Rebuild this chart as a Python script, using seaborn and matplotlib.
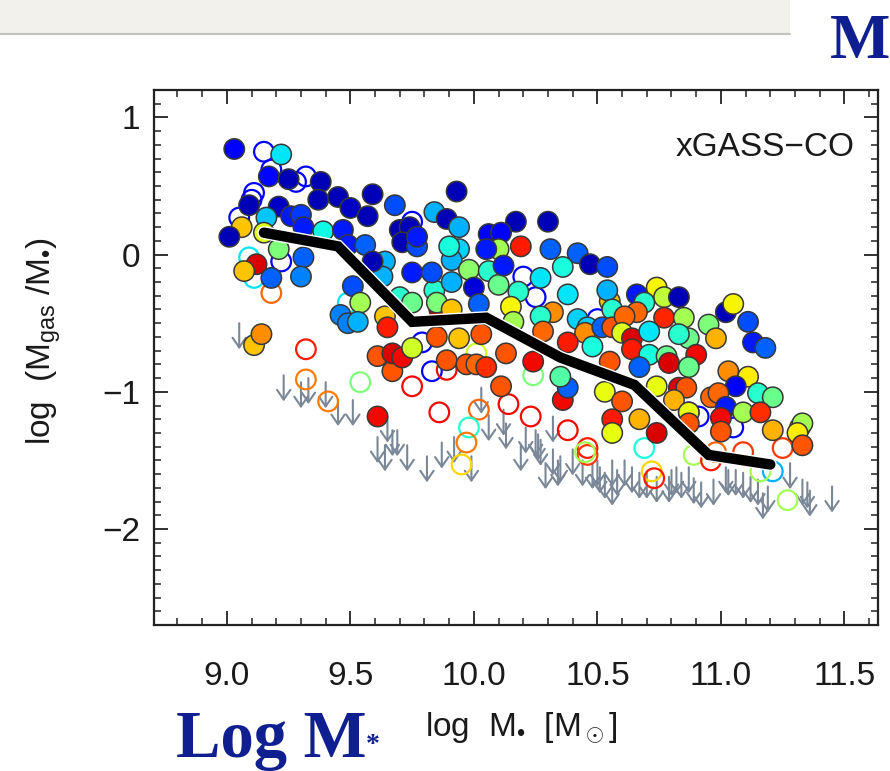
import numpy as np
import pandas as pd
import matplotlib
matplotlib.use("Agg")
import matplotlib.pyplot as plt
import matplotlib.patheffects as pe
from matplotlib.patches import Rectangle
from matplotlib.lines import Line2D
from matplotlib.ticker import MultipleLocator
import seaborn as sns

# ---------------- data ----------------
# detections (filled circles): log M*, log(Mgas/M*), colour value (0..1 on jet)
det_x = [9.03, 9.22, 9.17, 9.25, 9.38, 9.09, 9.21, 9.37, 9.45, 9.50, 9.59, 9.68, 9.57, 9.26, 9.30,
         9.06, 9.16, 9.01, 9.31, 9.39, 9.47, 9.49, 9.56, 9.70, 9.15, 9.21, 9.12, 9.07, 9.18, 9.31,
         9.30, 9.51, 9.54, 9.64, 9.63, 9.59, 9.75, 9.70, 9.75, 9.64, 9.46, 9.49, 9.53, 9.65, 9.11,
         9.14, 9.61, 9.61, 9.67, 9.67, 9.71, 9.75, 9.89, 9.97, 10.01, 10.05, 10.11, 9.74, 9.71, 9.77,
         9.84, 9.84, 9.86, 9.93, 9.89, 9.94, 9.77, 10.17, 10.30, 10.06, 10.11, 10.19, 10.31, 10.42, 10.47,
         10.54, 10.10, 9.94, 10.05, 9.91, 9.98, 10.06, 10.27, 10.36, 9.83, 9.91, 10.00, 10.10, 10.18, 10.38,
         10.02, 9.85, 10.15, 10.32, 10.27, 9.91, 10.55, 10.54, 10.56, 10.16, 10.28, 10.42, 10.46, 10.45, 10.52,
         10.56, 10.38, 10.48, 9.94, 9.85, 10.03, 10.13, 10.24, 10.55, 10.36, 10.38, 10.35, 10.74, 10.77, 10.83,
         10.66, 10.69, 10.66, 10.61, 10.77, 10.85, 10.95, 11.02, 11.05, 11.11, 10.60, 10.64, 10.71, 10.87, 10.83,
         10.98, 11.13, 11.18, 10.64, 10.71, 10.78, 10.90, 10.79, 10.67, 10.87, 11.03, 11.11, 11.06, 10.74, 10.83,
         10.86, 10.81, 10.96, 10.99, 11.02, 11.15, 11.21, 11.09, 11.16, 10.53, 10.60, 10.56, 10.56, 10.67, 10.74,
         10.87, 10.87, 11.00, 11.00, 11.21, 11.32, 11.33, 11.31, 11.33, 9.90, 10.12]
det_y = [0.77, 0.73, 0.57, 0.55, 0.53, 0.36, 0.35, 0.40, 0.42, 0.34, 0.44, 0.36, 0.28, 0.28, 0.29,
         0.20, 0.27, 0.13, 0.20, 0.17, 0.18, 0.07, 0.07, 0.18, 0.16, 0.04, -0.07, -0.12, -0.17, -0.02,
         -0.16, -0.23, -0.35, -0.05, -0.16, -0.05, -0.13, -0.31, -0.35, -0.45, -0.44, -0.50, -0.49, -0.53, -0.66,
         -0.58, -1.18, -0.74, -0.85, -0.72, -0.75, -0.68, -0.77, -0.80, -0.80, -0.82, -0.96, 0.20, 0.09, 0.06,
         0.31, -0.26, -0.40, 0.46, 0.26, 0.20, 0.13, 0.24, 0.24, 0.15, 0.16, 0.06, 0.04, 0.01, -0.07,
         -0.09, 0.04, 0.04, 0.04, -0.04, -0.11, -0.12, -0.17, -0.09, -0.13, -0.20, -0.24, -0.22, -0.27, -0.29,
         -0.36, -0.35, -0.38, -0.42, -0.45, -0.40, -0.34, -0.26, -0.40, -0.49, -0.56, -0.47, -0.53, -0.57, -0.53,
         -0.53, -0.64, -0.67, -0.61, -0.60, -0.58, -0.72, -0.78, -0.78, -1.06, -0.97, -0.89, -0.24, -0.31, -0.31,
         -0.29, -0.35, -0.42, -0.45, -0.46, -0.46, -0.51, -0.42, -0.36, -0.49, -0.57, -0.61, -0.56, -0.61, -0.58,
         -0.61, -0.64, -0.68, -0.69, -0.73, -0.74, -0.73, -0.79, -0.82, -0.82, -0.85, -0.89, -0.96, -0.96, -0.97,
         -0.97, -1.06, -1.04, -1.01, -1.11, -1.01, -1.04, -1.15, -1.15, -1.00, -1.07, -1.20, -1.30, -1.20, -1.30,
         -1.15, -1.23, -1.19, -1.29, -1.28, -1.26, -1.23, -1.30, -1.39, 0.06, -0.08]
det_c = [0.12, 0.35, 0.13, 0.05, 0.05, 0.05, 0.06, 0.05, 0.05, 0.06, 0.05, 0.20, 0.05, 0.15, 0.18,
         0.70, 0.32, 0.05, 0.15, 0.37, 0.15, 0.15, 0.22, 0.05, 0.62, 0.50, 0.92, 0.70, 0.22, 0.22,
         0.25, 0.20, 0.55, 0.30, 0.30, 0.05, 0.15, 0.40, 0.48, 0.70, 0.25, 0.25, 0.30, 0.88, 0.70,
         0.76, 0.90, 0.82, 0.82, 0.92, 0.90, 0.60, 0.82, 0.82, 0.80, 0.86, 0.82, 0.05, 0.05, 0.20,
         0.30, 0.40, 0.92, 0.05, 0.05, 0.30, 0.15, 0.05, 0.05, 0.12, 0.12, 0.88, 0.22, 0.22, 0.05,
         0.20, 0.55, 0.33, 0.15, 0.30, 0.52, 0.40, 0.35, 0.38, 0.20, 0.30, 0.08, 0.48, 0.40, 0.35,
         0.22, 0.50, 0.65, 0.76, 0.40, 0.70, 0.70, 0.30, 0.40, 0.55, 0.80, 0.33, 0.33, 0.76, 0.22,
         0.82, 0.88, 0.38, 0.70, 0.82, 0.82, 0.82, 0.90, 0.82, 0.90, 0.22, 0.45, 0.65, 0.58, 0.05,
         0.15, 0.40, 0.80, 0.80, 0.87, 0.55, 0.50, 0.05, 0.65, 0.20, 0.62, 0.92, 0.35, 0.48, 0.40,
         0.72, 0.15, 0.22, 0.88, 0.38, 0.48, 0.90, 0.92, 0.22, 0.48, 0.76, 0.66, 0.12, 0.63, 0.92,
         0.82, 0.72, 0.80, 0.80, 0.15, 0.40, 0.48, 0.55, 0.86, 0.63, 0.82, 0.88, 0.63, 0.72, 0.92,
         0.63, 0.82, 0.90, 0.82, 0.72, 0.63, 0.55, 0.66, 0.82, 0.38, 0.15]

# marginal / non-CO detections (open circles)
opn_x = [9.15, 9.18, 9.28, 9.32, 9.11, 9.10, 9.05, 9.22, 9.09, 9.11, 9.18, 9.49, 9.75, 10.20, 10.25,
         9.32, 9.32, 9.41, 9.54, 9.75, 9.79, 9.83, 9.89, 10.01, 9.86, 10.02, 10.14, 10.23, 9.98, 9.97,
         9.95, 10.24, 10.38, 10.46, 10.46, 10.45, 10.69, 10.72, 10.73, 10.89, 10.96, 10.98, 11.09, 11.25,
         11.21, 11.16, 11.27, 10.87, 10.91, 11.05, 10.50]
opn_y = [0.75, 0.62, 0.53, 0.57, 0.45, 0.40, 0.27, -0.05, -0.02, -0.17, -0.28, -0.35, 0.24, -0.16, -0.31,
         -0.69, -0.91, -1.07, -0.93, -0.96, -0.64, -0.85, -0.84, -0.72, -1.15, -1.13, -1.09, -1.18, -1.26, -1.37,
         -1.53, -0.88, -1.28, -1.41, -1.46, -1.44, -1.41, -1.58, -1.63, -1.46, -1.50, -1.44, -1.44, -1.41,
         -1.58, -1.58, -1.79, -1.15, -1.18, -1.26, -0.47]
opn_c = [0.12, 0.12, 0.12, 0.12, 0.12, 0.12, 0.12, 0.12, 0.35, 0.35, 0.80, 0.35, 0.12, 0.12, 0.12,
         0.88, 0.78, 0.78, 0.50, 0.90, 0.12, 0.12, 0.90, 0.60, 0.90, 0.80, 0.90, 0.90, 0.40, 0.78,
         0.68, 0.50, 0.90, 0.88, 0.85, 0.55, 0.38, 0.68, 0.88, 0.55, 0.88, 0.80, 0.85, 0.85,
         0.30, 0.55, 0.55, 0.12, 0.12, 0.12, 0.12]

# upper limits (arrows): log M*, upper limit on log(Mgas/M*)
lim_x = [9.05, 9.23, 9.30, 9.33, 9.40, 9.45, 9.51, 9.65, 9.61, 9.64, 9.67, 9.69, 9.73, 9.81, 9.87,
         9.92, 9.99, 10.03, 10.06, 10.12, 10.13, 10.19, 10.21, 10.25, 10.26, 10.27, 10.29, 10.32, 10.32,
         10.34, 10.35, 10.40, 10.44, 10.48, 10.50, 10.51, 10.53, 10.56, 10.58, 10.61, 10.64, 10.67, 10.70,
         10.74, 10.79, 10.80, 10.82, 10.84, 10.87, 10.89, 10.92, 10.97, 11.02, 11.03, 11.06, 11.09, 11.12,
         11.15, 11.17, 11.19, 11.28, 11.33, 11.35, 11.36, 11.45, 10.56]
lim_y = [-0.50, -0.88, -0.93, -0.90, -0.93, -1.06, -1.06, -1.18, -1.33, -1.39, -1.28, -1.28, -1.39, -1.47, -1.37,
         -1.33, -1.47, -0.97, -1.17, -1.13, -1.23, -1.39, -1.26, -1.28, -1.31, -1.35, -1.52, -1.18, -1.42,
         -1.50, -1.47, -1.42, -1.50, -1.52, -1.50, -1.55, -1.59, -1.64, -1.57, -1.50, -1.55, -1.59, -1.59,
         -1.62, -1.62, -1.57, -1.55, -1.59, -1.55, -1.63, -1.66, -1.64, -1.55, -1.57, -1.57, -1.59, -1.62,
         -1.64, -1.74, -1.69, -1.52, -1.64, -1.66, -1.72, -1.69, -1.50]

# running median
med_x = [9.15, 9.45, 9.75, 10.05, 10.35, 10.65, 10.95, 11.20]
med_y = [0.16, 0.06, -0.49, -0.46, -0.75, -0.95, -1.46, -1.53]

xtick_vals = [9.0, 9.5, 10.0, 10.5, 11.0, 11.5]
xtick_labels = ["9.0", "9.5", "10.0", "10.5", "11.0", "11.5"]
ytick_vals = [-2, -1, 0, 1]
ytick_labels = ["\u22122", "\u22121", "0", "1"]

# ---------------- style ----------------
sns.set_style("ticks")
plt.rcParams["font.family"] = ["Liberation Sans", "DejaVu Sans"]
plt.rcParams["mathtext.fontset"] = "custom"
plt.rcParams["mathtext.rm"] = "Liberation Sans"
plt.rcParams["mathtext.it"] = "Liberation Sans:italic"

JET = plt.get_cmap("jet")

W, H = 890, 771
fig = plt.figure(figsize=(W / 100, H / 100), dpi=100)
fig.patch.set_facecolor("white")

# top banner
fig.add_artist(Rectangle((0, 1 - 33 / H), 790 / W, 33 / H, transform=fig.transFigure,
                         facecolor="#f3f1ec", edgecolor="none", zorder=0))
fig.add_artist(Line2D([0, 790 / W], [1 - 34 / H, 1 - 34 / H], transform=fig.transFigure,
                      color="#c4c2bd", lw=1.6))

ax = fig.add_axes([154 / W, 1 - 625 / H, 724 / W, 535 / H])
ax.set_facecolor("white")

# upper limits
ARROW = 0.19
for x, y in zip(lim_x, lim_y):
    ax.annotate("", xy=(x, y - ARROW), xytext=(x, y),
                arrowprops=dict(arrowstyle="->,head_length=0.35,head_width=0.24",
                                color="#7a8797", lw=1.5, mutation_scale=20,
                                shrinkA=0, shrinkB=0), zorder=1)

# open circles
opn_df = pd.DataFrame({"x": opn_x, "y": opn_y, "c": opn_c})
sns.scatterplot(data=opn_df, x="x", y="y", hue="c", palette=JET, hue_norm=(0, 1),
                s=200, legend=False, ax=ax, zorder=2, linewidth=0)
coll = ax.collections[-1]
fcs = coll.get_facecolors()
coll.set_edgecolors(fcs)
coll.set_facecolors("none")
coll.set_linewidths(1.6)

# filled circles
det_df = pd.DataFrame({"x": det_x, "y": det_y, "c": det_c})
sns.scatterplot(data=det_df, x="x", y="y", hue="c", palette=JET, hue_norm=(0, 1),
                s=215, edgecolor="#383838", linewidth=1.1, legend=False, ax=ax, zorder=3)

# median line
sns.lineplot(x=med_x, y=med_y, color="black", lw=7.5, sort=False, ax=ax, zorder=5,
             solid_joinstyle="miter",
             path_effects=[pe.Stroke(linewidth=9.5, foreground="white"), pe.Normal()])

ax.set_xlim(8.705, 11.636)
ax.set_ylim(-2.70, 1.20)
ax.set_xticks(xtick_vals)
ax.set_xticklabels(xtick_labels)
ax.set_yticks(ytick_vals)
ax.set_yticklabels(ytick_labels)
ax.xaxis.set_minor_locator(MultipleLocator(0.1))
ax.yaxis.set_minor_locator(MultipleLocator(0.1))
ax.tick_params(which="both", direction="in", top=True, right=True, color="#222222")
ax.tick_params(which="major", length=10, width=1.3)
ax.tick_params(which="minor", length=5, width=1.1)
ax.tick_params(axis="x", which="major", labelsize=24, pad=26, labelcolor="#1a1a1a")
ax.tick_params(axis="y", which="major", labelsize=24, pad=10, labelcolor="#1a1a1a")
for sp in ax.spines.values():
    sp.set_visible(True)
    sp.set_color("#222222")
    sp.set_linewidth(1.6)

ax.set_xlabel("log  M$_{\\mathrm{\u2022}}$  [M$_\\odot$]", fontsize=24, color="#1a1a1a")
ax.xaxis.set_label_coords(0.507, -0.160)
ax.xaxis.label.set_va("top")
ax.set_ylabel("log  (M$_{\\mathrm{gas}}$ /M$_{\\mathrm{\u2022}}$)", fontsize=24, color="#1a1a1a")
ax.yaxis.set_label_coords(-0.125, 0.53)

ax.text(0.968, 0.892, "xGASS\u2212CO", transform=ax.transAxes, ha="right", va="center",
        fontsize=24, color="#1a1a1a")

# slide annotations
fig.text(830 / W, 1 - 58 / H, "M", fontsize=46, fontweight="bold", family="Liberation Serif",
         color="#0f1f8f", ha="left", va="baseline")
fig.text(176 / W, 1 - 757 / H, "Log M", fontsize=48, fontweight="bold", family="Liberation Serif",
         color="#0f1f8f", ha="left", va="baseline")
fig.text(366 / W, 1 - 752 / H, "*", fontsize=20, fontweight="bold", family="Liberation Serif",
         color="#0f1f8f", ha="left", va="baseline")

fig.savefig("out.png", dpi=100, facecolor="white")
